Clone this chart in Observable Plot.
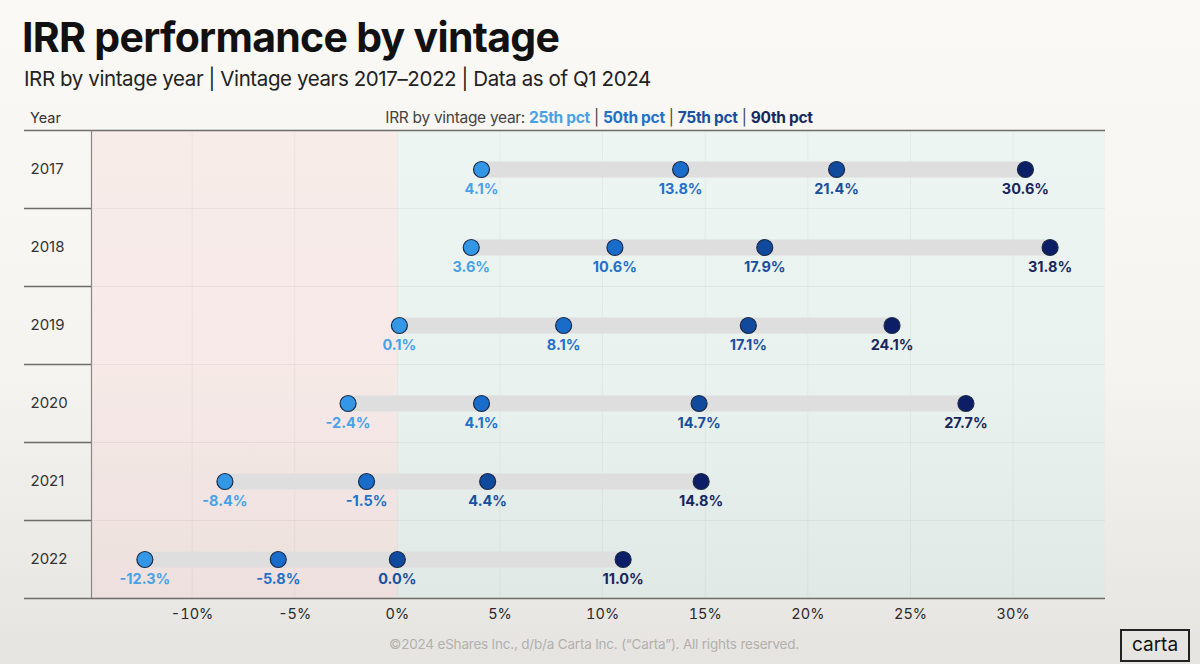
<!DOCTYPE html>
<html><head><meta charset="utf-8">
<script src="https://cdn.jsdelivr.net/npm/d3@7"></script>
<script src="https://cdn.jsdelivr.net/npm/@observablehq/plot@0.6"></script>
<style>
body{margin:0;}
#page{position:relative;width:1200px;height:664px;overflow:hidden;background:linear-gradient(180deg,#fbf9f6 0%,#f6f4f1 55%,#e6e4e1 100%);font-family:Inter,"Noto Sans",sans-serif;color:#111;}
#title{position:absolute;left:22px;top:12px;font-size:41px;font-weight:700;letter-spacing:-0.7px;line-height:50px;}
#sub{position:absolute;left:24px;top:65px;font-size:20.5px;font-weight:400;letter-spacing:-0.4px;color:#222;line-height:28px;}
#yearhdr{position:absolute;left:30px;top:109px;font-size:14.5px;color:#333;line-height:18px;}
#legend{position:absolute;left:599px;top:108px;transform:translateX(-50%);font-size:15.5px;color:#444;white-space:nowrap;line-height:20px;letter-spacing:-0.3px;}
#legend b{font-weight:700;}
#chart{position:absolute;left:0;top:100px;}
#foot{position:absolute;left:594px;top:636px;transform:translateX(-50%);font-size:13.5px;color:#b2b0ad;white-space:nowrap;letter-spacing:-0.2px;}
#logo{position:absolute;left:1120px;top:629px;width:66px;height:29px;border:2px solid #222;font-size:19px;line-height:28px;text-align:center;color:#111;}
</style></head><body>
<div id="page">
<div id="title">IRR performance by vintage</div>
<div id="sub">IRR by vintage year | Vintage years 2017–2022 | Data as of Q1 2024</div>
<div id="yearhdr">Year</div>
<div id="legend"></div>
<div id="chart"></div>
<div id="foot">©2024 eShares Inc., d/b/a Carta Inc. (“Carta”). All rights reserved.</div>
<div id="logo">carta</div>
</div>
<script>
const years = ["2017","2018","2019","2020","2021","2022"];
const p25 = [4.1, 3.6, 0.1, -2.4, -8.4, -12.3];
const p50 = [13.8, 10.6, 8.1, 4.1, -1.5, -5.8];
const p75 = [21.4, 17.9, 17.1, 14.7, 4.4, 0.0];
const p90 = [30.6, 31.8, 24.1, 27.7, 14.8, 11.0];
const pctNames = ["25th pct","50th pct","75th pct","90th pct"];
const pctColors = ["#3397e6","#1a6ccb","#0f4a9c","#0c1f66"];
const labelColors = ["#4aa2e6","#2470c8","#194f9e","#17275e"];
const xTicks = [-10, -5, 0, 5, 10, 15, 20, 25, 30];
const xDomain = [-14.9, 34.5];

// legend
const leg = document.getElementById("legend");
leg.innerHTML = "IRR by vintage year: " + pctNames.map((n,i)=>`<b style="color:${labelColors[i]}">${n}</b>`).join(" | ");

const series = [p25, p50, p75, p90];
const rows = years.map((y,i)=>({year:y, lo:p25[i], hi:p90[i]}));
const pts = [];
series.forEach((s,k)=>s.forEach((v,i)=>pts.push({year:years[i], value:v, pct:pctNames[k]})));
const zones = [{from:xDomain[0], to:0, fill:"#f6c8c8"},{from:0, to:xDomain[1], fill:"#c4f0ea"}];
const fmt = v => (v < 0 ? "-" : "") + Math.abs(v).toFixed(1) + "%";
const labelColor = d3.scaleOrdinal(pctNames, labelColors);

const chart = Plot.plot({
  width:1200, height:540,
  marginLeft:91, marginRight:95, marginTop:30, marginBottom:42,
  style:{background:"transparent", fontFamily:"Inter, 'Noto Sans', sans-serif", fontSize:"14.5px", color:"#2a2a2a"},
  x:{domain:xDomain, ticks:xTicks, tickFormat:d=>(d<0?"-":"")+Math.abs(d)+"%", tickSize:0, tickPadding:10, label:null},
  y:{type:"band", domain:years, padding:0, axis:null},
  color:{domain:pctNames, range:pctColors},
  marks:[
    Plot.rect(zones, {x1:"from", x2:"to", fill:"fill", fillOpacity:0.24}),
    Plot.ruleX(xTicks, {stroke:"#000", strokeOpacity:0.04}),
    Plot.ruleY(years.slice(0,-1), {y:d=>d, dy:39, stroke:"#000", strokeOpacity:0.045}),
    Plot.ruleY(years.slice(0,-1), {y:d=>d, dy:39, stroke:"#6e6c6a", strokeWidth:1.5, insetLeft:-67, insetRight:1014}),
    Plot.ruleY([years[0]], {y:d=>d, dy:-39, stroke:"#6e6c6a", strokeWidth:1.5, insetLeft:-67}),
    Plot.ruleY([years[years.length-1]], {y:d=>d, dy:39, stroke:"#6e6c6a", strokeWidth:1.5, insetLeft:-67}),
    Plot.ruleX([xDomain[0]], {stroke:"#8a8886", strokeWidth:1.2}),
    Plot.text(years, {y:d=>d, text:d=>d, frameAnchor:"left", dx:-61, textAnchor:"start", fontSize:15, fill:"#333"}),
    Plot.ruleY(rows, {y:"year", x1:"lo", x2:"hi", stroke:"#dedede", strokeWidth:16}),
    Plot.dot(pts, {x:"value", y:"year", fill:"pct", r:8, stroke:"#1d2a45", strokeWidth:1.2}),
    Plot.text(pts, {x:"value", y:"year", text:d=>fmt(d.value), fill:d=>labelColor(d.pct), dy:20, fontSize:14.5, fontWeight:700})
  ]
});
document.getElementById("chart").appendChild(chart);
</script>
</body></html>
